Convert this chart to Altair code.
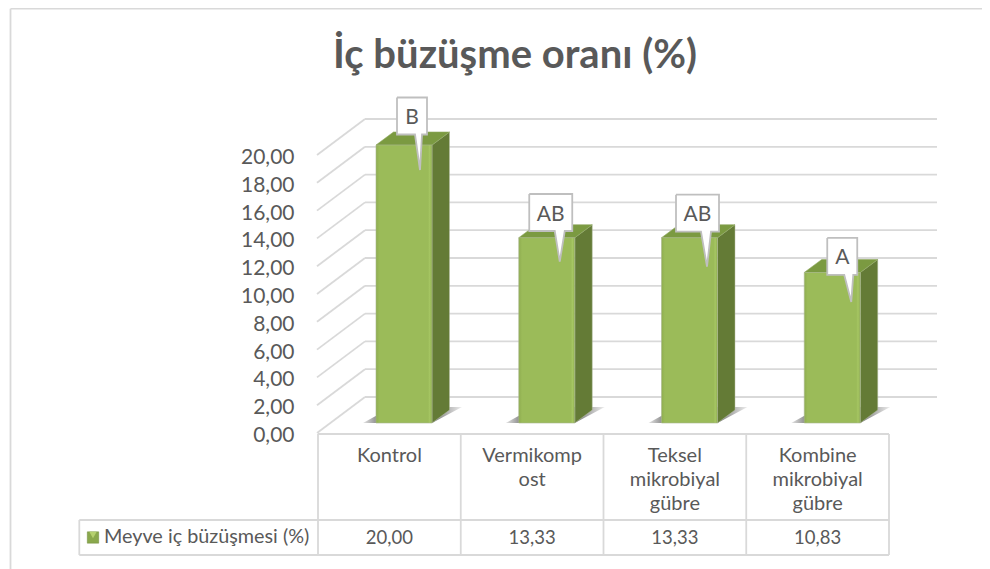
import altair as alt
import pandas as pd

# ---------- data ----------
categories = ["Kontrol", "Vermikompost", "Teksel mikrobiyal gübre", "Kombine mikrobiyal gübre"]
category_lines = [["Kontrol"], ["Vermikomp", "ost"], ["Teksel", "mikrobiyal", "gübre"], ["Kombine", "mikrobiyal", "gübre"]]
values = [20.00, 13.33, 13.33, 10.83]
letters = ["B", "AB", "AB", "A"]
series_name = "Meyve iç büzüşmesi (%)"
title_text = "İç büzüşme oranı (%)"
ticks = [0, 2, 4, 6, 8, 10, 12, 14, 16, 18, 20]

# ---------- layout (page px -> scale units) ----------
X0, COL = 318.0, 142.75
Y0, UNIT = 433.0, 13.9
ux = lambda px: (px - X0) / COL
uy = lambda py: (Y0 - py) / UNIT
PL, PT, PR, PB = 48, 88, 982, 569
TXT = "#595959"
FONT = "Lato"
xs = alt.Scale(domain=[ux(PL), ux(PR)], nice=False, zero=False)
ys = alt.Scale(domain=[uy(PB), uy(PT)], nice=False, zero=False)
y_axis_def = alt.Axis(
    values=ticks, labelExpr="replace(format(datum.value,'.2f'),'.',',')",
    grid=False, domain=False, ticks=False, labelPadding=0, offset=-246, title=None,
    labelFont=FONT, labelFontSize=21, labelColor=TXT, labelOffset=2.5)
X = lambda f="x": alt.X(f"{f}:Q", scale=xs, axis=None)
Y = lambda f="y": alt.Y(f"{f}:Q", scale=ys, axis=y_axis_def)

BACK_DX, BACK_DY = 48.0, 36.0      # wall depth, px
BAR_W, BAR_DX, BAR_DY = 56.0, 17.5, 13.0
BAR_L0, BASE_Y = 376.0, 423.0
GRID_R = 937.0
TABLE_MID, TABLE_BOT, LEG_L = 520.0, 555.0, 79.3
GREY = "#D9D9D9"

def poly(rows, **kw):
    """rows: list of polygons, each a list of (px, py)."""
    recs = []
    for pid, pts in enumerate(rows):
        for i, (a, b) in enumerate(pts):
            recs.append({"x": ux(a), "y": uy(b), "pid": pid, "i": i})
    return alt.Chart(pd.DataFrame(recs)).mark_line(**kw).encode(
        x=X(), y=Y(), detail="pid:N", order="i:Q")

def segs(rows, color=GREY, width=1.8):
    recs = []
    for pid, (a, b, c, d) in enumerate(rows):
        recs.append({"x": ux(a), "y": uy(b), "pid": pid, "i": 0})
        recs.append({"x": ux(c), "y": uy(d), "pid": pid, "i": 1})
    return alt.Chart(pd.DataFrame(recs)).mark_line(color=color, strokeWidth=width).encode(
        x=X(), y=Y(), detail="pid:N", order="i:Q")

# ---------- walls ----------
wall = []
for t in ticks:
    fy = Y0 - t * UNIT
    wall.append((X0 - 1, fy, X0 - 1 + BACK_DX, fy - BACK_DY))
    wall.append((X0 - 1 + BACK_DX, fy - BACK_DY, GRID_R, fy - BACK_DY))

# ---------- bars ----------
shadow_fill = alt.Gradient(gradient="linear", x1=0, x2=1, y1=0, y2=0, stops=[
    alt.GradientStop(color="#e4e4e4", offset=0), alt.GradientStop(color="#888888", offset=0.15),
    alt.GradientStop(color="#777777", offset=0.7), alt.GradientStop(color="#eeeeee", offset=1)])
front_fill = alt.Gradient(gradient="linear", x1=0, x2=1, y1=0, y2=0, stops=[
    alt.GradientStop(color="#8FAD50", offset=0), alt.GradientStop(color="#9BBB59", offset=0.06),
    alt.GradientStop(color="#9BBB59", offset=0.93), alt.GradientStop(color="#A6C663", offset=0.96),
    alt.GradientStop(color="#8FAD50", offset=1)])

lefts = [BAR_L0 + i * COL for i in range(len(values))]
tops = [BASE_Y - v * UNIT for v in values]

shadows = [[(l - 13, BASE_Y), (l + BAR_W, BASE_Y), (l + BAR_W + 30, BASE_Y - 16), (l + 16, BASE_Y - 16)] for l in lefts]
sides = [[(l + BAR_W, t), (l + BAR_W + BAR_DX, t - BAR_DY), (l + BAR_W + BAR_DX, BASE_Y - BAR_DY), (l + BAR_W, BASE_Y), (l + BAR_W, t)]
         for l, t in zip(lefts, tops)]
caps = [[(l, t), (l + BAR_DX, t - BAR_DY), (l + BAR_W + BAR_DX, t - BAR_DY), (l + BAR_W, t), (l, t)]
        for l, t in zip(lefts, tops)]

bar_df = pd.DataFrame({
    "category": categories, "value": values,
    "x": [ux(l) for l in lefts], "x2": [ux(l + BAR_W) for l in lefts],
    "y0": [uy(BASE_Y)] * 4, "y": [uy(t) for t in tops]})
front = alt.Chart(bar_df).mark_bar(fill=front_fill, stroke="#A9B78E", strokeWidth=0.6).encode(
    x=X(), x2="x2:Q", y=Y(), y2="y0:Q")

# ---------- callouts: (box centre dx, box bottom above bar top, box w, pointer l, pointer r, tip dx, tip below top) ----------
call = [(36, 10.5, 30, 39, 46, 44, 25), (32, 6.7, 43, 36, 46, 41, 24), (36, 6, 43, 39.5, 49.5, 45.5, 29), (38, -2.5, 30, 40, 49, 47, 29.5)]
BOX_H = 37
call_polys = []
call_text = []
for l, t, (cx, up, w, pl, pr, tx, down), s in zip(lefts, tops, call, letters):
    b = t - up
    c = l + cx
    call_polys.append([(c - w / 2, b - BOX_H), (c + w / 2, b - BOX_H), (c + w / 2, b), (l + pr, b),
                       (l + tx, t + down), (l + pl, b), (c - w / 2, b), (c - w / 2, b - BOX_H)])
    call_text.append({"x": ux(c), "y": uy(b - BOX_H / 2 + 2), "t": s})
labels = alt.Chart(pd.DataFrame(call_text)).mark_text(font=FONT, fontSize=21, color=TXT).encode(
    x=X(), y=Y(), text="t:N")

# ---------- data table ----------
col_edges = [X0 + i * COL for i in range(5)]
tbl = [(c, Y0 + 1, c, TABLE_BOT) for c in col_edges]
tbl += [(X0, Y0 + 1, col_edges[-1], Y0 + 1), (LEG_L, TABLE_MID, col_edges[-1], TABLE_MID),
        (LEG_L, TABLE_BOT, col_edges[-1], TABLE_BOT), (LEG_L, TABLE_MID, LEG_L, TABLE_BOT)]

cat_rows = []
val_rows = []
for i, (ls, v) in enumerate(zip(category_lines, values)):
    for j, s in enumerate(ls):
        cat_rows.append({"x": i + 0.5, "y": uy(456 + 24 * j), "t": s})
    val_rows.append({"x": i + 0.5, "y": uy(537.5), "t": f"{v:.2f}".replace(".", ",")})
cat_text = alt.Chart(pd.DataFrame(cat_rows)).mark_text(font=FONT, fontSize=20, color=TXT).encode(
    x=X(), y=Y(), text="t:N")
val_text = alt.Chart(pd.DataFrame(val_rows)).mark_text(font=FONT, fontSize=18.5, color=TXT).encode(
    x=X(), y=Y(), text="t:N")
legend_text = alt.Chart(pd.DataFrame([{"x": ux(104), "y": uy(537), "t": series_name}])).mark_text(
    font=FONT, fontSize=19.8, color=TXT, align="left").encode(x=X(), y=Y(), text="t:N")
key_box = alt.Chart(pd.DataFrame([{"x": ux(93), "y": uy(537.5)}])).mark_square(
    size=130, color="#8AA84C", opacity=1, stroke="#6F8A3A", strokeWidth=0.5).encode(x=X(), y=Y())
key_tri = alt.Chart(pd.DataFrame([{"x": ux(93), "y": uy(535)}])).mark_point(
    shape="triangle-down", size=55, filled=True, color="#B5D06E", opacity=1).encode(x=X(), y=Y())

# ---------- outer frame ----------
frame = segs([(10.5, 8.7, 982, 8.7), (10.5, 8.7, 10.5, 569)], color="#D9D9D9", width=1.8)

chart = alt.layer(
    frame, segs(wall), segs(tbl),
    poly(shadows, fill=shadow_fill, stroke=None, strokeWidth=0),
    poly(sides, fill="#647B36", stroke="#B4BEA2", strokeWidth=0.5),
    poly(caps, fill="#7B9A41", stroke="#8FA860", strokeWidth=0.6),
    front,
    poly(call_polys, fill="white", stroke="#BFBFBF", strokeWidth=1.8),
    labels, cat_text, val_text, legend_text, key_box, key_tri,
).properties(
    width=PR - PL, height=PB - PT,
    title=alt.TitleParams(title_text, font=FONT, fontSize=40, fontWeight="bold", color=TXT,
                          anchor="middle", frame="group", offset=0, dy=71),
    padding={"left": PL - 8, "top": PT - 8, "right": 0, "bottom": 0},
    autosize=alt.AutoSizeParams(type="none"),
    background="white",
).configure_view(stroke=None)

chart.save("out.html", embed_options={"renderer": "svg", "actions": False})
